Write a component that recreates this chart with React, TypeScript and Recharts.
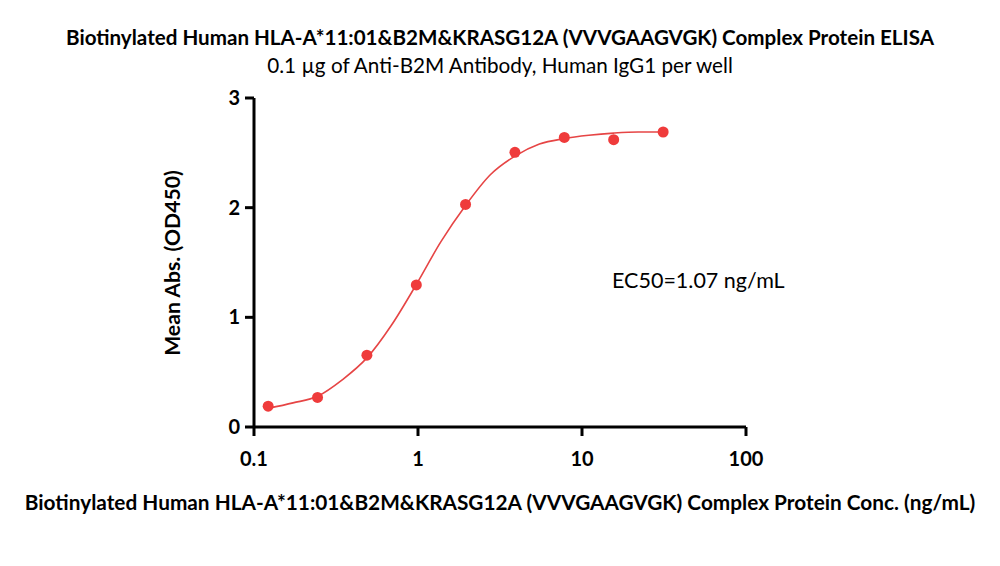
import React from "react";
import {
  ComposedChart,
  Line,
  Scatter,
  XAxis,
  YAxis,
} from "recharts";

const concentrations = [0.122, 0.244, 0.488, 0.977, 1.95, 3.9, 7.8, 15.6, 31.25];
const meanAbs = [0.19, 0.27, 0.655, 1.295, 2.03, 2.505, 2.64, 2.62, 2.69];

// fitted curve
const fitX = [0.122, 0.173, 0.244, 0.345, 0.488, 0.69, 0.977, 1.38, 1.95, 2.76, 3.9, 5.5, 7.8, 11, 15.6, 22, 31.25];
const fitY = [0.17, 0.22, 0.28, 0.43, 0.63, 0.93, 1.3, 1.69, 2.02, 2.3, 2.47, 2.58, 2.63, 2.66, 2.68, 2.69, 2.69];

const xTicks = [0.1, 1, 10, 100];
const yTicks = [0, 1, 2, 3];

const points = concentrations.map((x, i) => ({ x, y: meanAbs[i] }));
const curve = fitX.map((x, i) => ({ x, y: fitY[i] }));

const RED = "#ef3b3b";
const FONT = "Lato, 'Open Sans', sans-serif";

const App = () => {
  return (
    <div style={{ position: "absolute", left: 0, top: 0, width: 1000, height: 566, background: "#fff", fontFamily: FONT }}>
      <div style={{ position: "absolute", top: 25, width: 1000, textAlign: "center", fontWeight: 700, fontSize: 20.6, color: "#000" }}>
        Biotinylated Human HLA-A*11:01&amp;B2M&amp;KRASG12A (VVVGAAGVGK) Complex Protein ELISA
      </div>
      <div style={{ position: "absolute", top: 53, width: 1000, textAlign: "center", fontSize: 20.7, color: "#000" }}>
        0.1 µg of Anti-B2M Antibody, Human IgG1 per well
      </div>
      <ComposedChart
        width={1000}
        height={566}
        margin={{ top: 98, right: 254, bottom: 0, left: 0 }}
      >
        <XAxis
          dataKey="x"
          type="number"
          scale="log"
          domain={[0.1, 100]}
          ticks={xTicks}
          allowDataOverflow
          axisLine={{ stroke: "#000", strokeWidth: 3 }}
          tickLine={{ stroke: "#000", strokeWidth: 3 }}
          tickSize={9}
          tickMargin={16}
          tick={{ fill: "#000", fontWeight: 700, fontSize: 20, fontFamily: FONT }}
          tickFormatter={(v: number) => String(v)}
          height={139}
        />
        <YAxis
          dataKey="y"
          type="number"
          domain={[0, 3]}
          ticks={yTicks}
          axisLine={{ stroke: "#000", strokeWidth: 3 }}
          tickLine={{ stroke: "#000", strokeWidth: 3 }}
          tickSize={9}
          tickMargin={5}
          tick={{ fill: "#000", fontWeight: 700, fontSize: 20, fontFamily: FONT }}
          width={254}
        />
        <Line
          data={curve}
          dataKey="y"
          type="monotone"
          stroke="#e64545"
          strokeWidth={1.6}
          dot={false}
          activeDot={false}
          isAnimationActive={false}
        />
        <Scatter
          data={points}
          dataKey="y"
          fill={RED}
          shape={(p: any) => <circle cx={p.cx} cy={p.cy} r={5.5} fill={RED} />}
          isAnimationActive={false}
        />
      </ComposedChart>
      <div style={{ position: "absolute", left: 612, top: 267, fontSize: 21.5, color: "#000" }}>
        EC50=1.07 ng/mL
      </div>
      <div
        style={{
          position: "absolute",
          left: 172,
          top: 263,
          transform: "translate(-50%, -50%) rotate(-90deg)",
          whiteSpace: "nowrap",
          fontWeight: 700,
          fontSize: 21.2,
          color: "#000",
        }}
      >
        Mean Abs. (OD450)
      </div>
      <div style={{ position: "absolute", top: 489, width: 1000, textAlign: "center", fontWeight: 700, fontSize: 20.8, color: "#000" }}>
        Biotinylated Human HLA-A*11:01&amp;B2M&amp;KRASG12A (VVVGAAGVGK) Complex Protein Conc. (ng/mL)
      </div>
    </div>
  );
};

export default App;
